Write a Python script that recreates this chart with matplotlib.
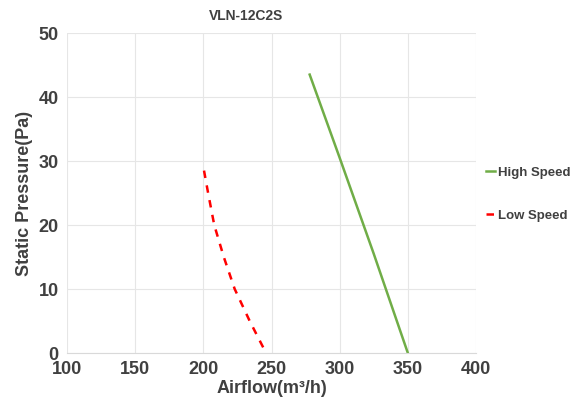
import matplotlib

matplotlib.use('Agg')
import matplotlib.pyplot as plt

# 数据
high_airflow = [278, 300, 325, 350]
high_pressure = [43.5, 30.5, 15.5, 0]
low_airflow = [200.5, 203.5, 208, 215, 223, 234, 246]
low_pressure = [28.5, 25, 20, 15, 10, 5, 0]

plt.rcParams['font.family'] = ['Liberation Sans', 'DejaVu Sans']
text_color = '#404040'

fig = plt.figure(figsize=(5.79, 4.05), dpi=100)
ax = fig.add_axes([67 / 579, 1 - 353 / 405, (476 - 67) / 579, (353 - 33) / 405])

ax.plot(high_airflow, high_pressure, color='#70ad47', linewidth=1.8, label='High Speed')
ax.plot(low_airflow, low_pressure, color='#ff0000', linewidth=1.8, linestyle=(0, (3, 3)), label='Low Speed')

ax.set_xlim(100, 400)
ax.set_ylim(0, 50)
ax.set_xticks(range(100, 401, 50))
ax.set_yticks(range(0, 51, 10))
ax.grid(True, color='#e6e6e6', linewidth=0.8)
for s in ['top', 'right', 'left']:
    ax.spines[s].set_visible(False)
ax.spines['bottom'].set_color('#d9d9d9')
ax.tick_params(length=0, labelsize=13, labelcolor=text_color, pad=6)
for lb in ax.get_xticklabels() + ax.get_yticklabels():
    lb.set_fontweight('bold')

ax.set_xlabel('Airflow(m³/h)', fontsize=13, fontweight='bold', color=text_color, labelpad=1)
ax.set_ylabel('Static Pressure(Pa)', fontsize=13, fontweight='bold', color=text_color, labelpad=4)
fig.text(246 / 579, 1 - 16 / 405, 'VLN-12C2S', ha='center', va='center',
         fontsize=10, fontweight='bold', color=text_color)

leg = fig.legend(loc='upper left', bbox_to_anchor=(474 / 579, 1 - 155 / 405), frameon=False,
                 handlelength=0.7, handletextpad=0.25, labelspacing=2.3,
                 prop={'size': 9.5, 'weight': 'bold'})
for t in leg.get_texts():
    t.set_color(text_color)

fig.savefig('out.png', dpi=100)
